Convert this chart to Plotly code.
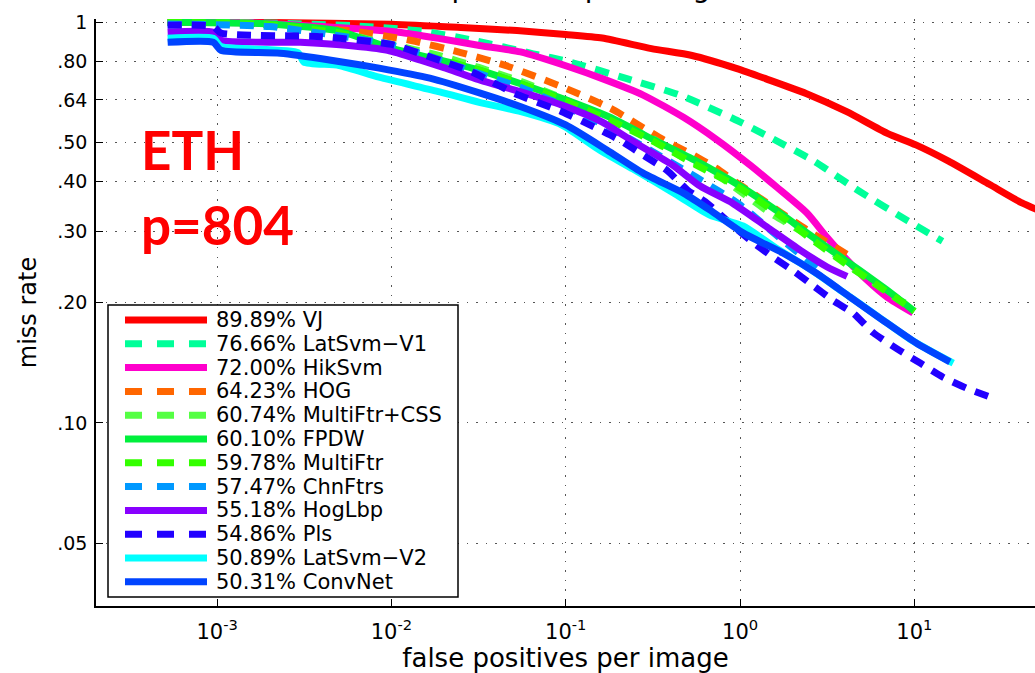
import plotly.graph_objects as go

# ---------------- data ----------------
names = ["VJ", "LatSvm\u2212V1", "HikSvm", "HOG", "MultiFtr+CSS", "FPDW", "MultiFtr",
         "ChnFtrs", "HogLbp", "Pls", "LatSvm\u2212V2", "ConvNet"]
scores = [89.89, 76.66, 72.00, 64.23, 60.74, 60.10, 59.78, 57.47, 55.18, 54.86, 50.89, 50.31]
colors = ["#FF0000", "#00FF99", "#FF00CC", "#FF6600", "#55FF44", "#00F03C", "#33FF00",
          "#0099FF", "#8800FF", "#2200FF", "#00FFFF", "#0044FF"]
dashed = [False, True, False, True, True, False, True, True, False, True, False, False]

vj_fppi = [5.2e-4, 2e-3, 0.01, 0.025, 0.0525, 0.1, 0.162, 0.31, 0.53, 0.96, 1.40, 2.39, 4.09, 7.0, 10.2, 15.7, 26.9, 41.4, 60.0]
vj_miss = [1.0, 0.998, 0.988, 0.97, 0.953, 0.932, 0.913, 0.859, 0.826, 0.766, 0.723, 0.664, 0.598, 0.528, 0.494, 0.450, 0.394, 0.354, 0.33]

latv1_fppi = [5.2e-4, 2e-3, 0.006, 0.015, 0.03, 0.065, 0.105, 0.224, 0.45, 0.91, 1.40, 2.66, 4.81, 9.2, 14.5]
latv1_miss = [1.0, 0.995, 0.98, 0.95, 0.90, 0.834, 0.796, 0.723, 0.658, 0.575, 0.523, 0.450, 0.379, 0.319, 0.284]

hik_fppi = [5.2e-4, 1.5e-3, 4e-3, 0.011, 0.019, 0.032, 0.055, 0.105, 0.162, 0.278, 0.476, 0.73, 1.14, 1.63, 2.42, 3.16, 4.11, 5.36, 6.97, 9.84]
hik_miss = [1.0, 0.997, 0.975, 0.944, 0.910, 0.875, 0.843, 0.773, 0.723, 0.658, 0.578, 0.51, 0.44, 0.387, 0.334, 0.29, 0.255, 0.227, 0.206, 0.188]

hog_fppi = [5.2e-4, 2e-3, 6e-3, 0.013, 0.025, 0.045, 0.095, 0.18, 0.36, 0.52, 0.73, 0.96, 1.30, 1.73, 2.42, 4.45]
hog_miss = [1.0, 0.985, 0.95, 0.90, 0.84, 0.78, 0.69, 0.61, 0.51, 0.47, 0.432, 0.397, 0.364, 0.334, 0.303, 0.258]

mfcss_fppi = [5.2e-4, 1.5e-3, 4e-3, 0.01, 0.018, 0.032, 0.056, 0.1, 0.18, 0.32, 0.47, 0.65, 1.04, 1.49, 2.62, 3.42, 4.45, 6.1, 8.3, 9.6]
mfcss_miss = [1.0, 0.995, 0.96, 0.88, 0.83, 0.77, 0.71, 0.64, 0.57, 0.51, 0.46, 0.432, 0.374, 0.334, 0.289, 0.265, 0.243, 0.221, 0.202, 0.196]

fpdw_fppi = [5.2e-4, 2e-3, 5e-3, 0.01, 0.0178, 0.0316, 0.0562, 0.1, 0.178, 0.316, 0.562, 1.0, 1.6, 2.5, 4.0, 6.0, 8.0, 10.0]
fpdw_miss = [1.0, 0.99, 0.95, 0.86, 0.81, 0.76, 0.70, 0.64, 0.58, 0.51, 0.45, 0.39, 0.34, 0.295, 0.255, 0.225, 0.205, 0.19]

mf_fppi = [5.2e-4, 2e-3, 5e-3, 0.01, 0.0178, 0.0316, 0.0562, 0.1, 0.178, 0.316, 0.562, 1.0, 1.6, 2.5, 4.0, 6.0, 8.5, 10.0]
mf_miss = [1.0, 0.985, 0.94, 0.87, 0.815, 0.76, 0.70, 0.635, 0.57, 0.505, 0.44, 0.385, 0.335, 0.29, 0.25, 0.222, 0.20, 0.19]

chn_fppi = [5.2e-4, 2e-3, 4.7e-3, 0.0085, 0.0145, 0.0316, 0.0562, 0.1, 0.178, 0.316, 0.562, 1.0, 1.6, 2.9]
chn_miss = [0.99, 0.975, 0.928, 0.891, 0.837, 0.745, 0.685, 0.615, 0.545, 0.475, 0.41, 0.35, 0.295, 0.24]

hoglbp_fppi = [5.2e-4, 9.5e-4, 1.05e-3, 3e-3, 5.5e-3, 0.0095, 0.0147, 0.02, 0.0323, 0.0553, 0.095, 0.16, 0.25, 0.41, 0.59, 0.91, 1.43, 2.21, 3.16, 4.11]
hoglbp_miss = [0.944, 0.944, 0.902, 0.891, 0.876, 0.851, 0.804, 0.77, 0.717, 0.670, 0.621, 0.565, 0.50, 0.44, 0.39, 0.353, 0.308, 0.270, 0.245, 0.232]

pls_fppi = [5.2e-4, 9.5e-4, 1.05e-3, 4e-3, 0.01, 0.0165, 0.029, 0.051, 0.095, 0.131, 0.2, 0.28, 0.38, 0.5, 0.65, 0.84, 1.14, 1.55, 2.01, 2.52, 3.42, 4.45, 5.8, 7.96, 10.8, 14.6, 20.0, 27.2]
pls_miss = [0.983, 0.975, 0.94, 0.92, 0.88, 0.82, 0.751, 0.664, 0.598, 0.56, 0.51, 0.465, 0.427, 0.381, 0.353, 0.320, 0.286, 0.259, 0.240, 0.223, 0.202, 0.188, 0.168, 0.153, 0.141, 0.130, 0.122, 0.116]

latv2_fppi = [5.2e-4, 9.5e-4, 1.05e-3, 2.9e-3, 3.15e-3, 5e-3, 8.5e-3, 0.0189, 0.0323, 0.0553, 0.095, 0.157, 0.243, 0.436, 0.67, 1.04, 1.63, 2.52, 3.9, 6.1, 9.4, 12.8, 16.7]
latv2_miss = [0.912, 0.912, 0.87, 0.84, 0.795, 0.78, 0.729, 0.67, 0.63, 0.598, 0.554, 0.479, 0.43, 0.37, 0.33, 0.31, 0.272, 0.242, 0.212, 0.185, 0.162, 0.150, 0.141]

conv_fppi = [5.2e-4, 9.5e-4, 1.05e-3, 2.3e-3, 4.5e-3, 8.5e-3, 0.0166, 0.0323, 0.0553, 0.1, 0.172, 0.278, 0.476, 0.67, 1.04, 1.77, 2.76, 4.28, 6.64, 10.3, 16.0]
conv_miss = [0.891, 0.891, 0.851, 0.837, 0.804, 0.768, 0.725, 0.665, 0.615, 0.554, 0.48, 0.42, 0.374, 0.34, 0.298, 0.265, 0.236, 0.206, 0.180, 0.158, 0.142]

curves = [(vj_fppi, vj_miss), (latv1_fppi, latv1_miss), (hik_fppi, hik_miss), (hog_fppi, hog_miss),
          (mfcss_fppi, mfcss_miss), (fpdw_fppi, fpdw_miss), (mf_fppi, mf_miss), (chn_fppi, chn_miss),
          (hoglbp_fppi, hoglbp_miss), (pls_fppi, pls_miss), (latv2_fppi, latv2_miss), (conv_fppi, conv_miss)]

x_tickvals = [1e-3, 1e-2, 1e-1, 1, 10]
x_ticktext = ["10<sup>-3</sup>", "10<sup>-2</sup>", "10<sup>-1</sup>", "10<sup>0</sup>", "10<sup>1</sup>"]
y_tickvals = [0.05, 0.10, 0.20, 0.30, 0.40, 0.50, 0.64, 0.80, 1.0]
y_ticktext = [".05", ".10", ".20", ".30", ".40", ".50", ".64", ".80", "1"]

# ---------------- figure ----------------
W, H = 1035, 673
L, R, T, B = 96, 1035, 19, 606
FONT = "DejaVu Sans, Liberation Sans, Arial, sans-serif"

def px_x(px):
    return (px - L) / (R - L)

def px_y(py):
    return (B - py) / (B - T)

fig = go.Figure()
for (fx, my), nm, col, dsh in zip(curves, names, colors, dashed):
    fig.add_trace(go.Scatter(
        x=fx, y=my, mode="lines", name=nm,
        line=dict(color=col, width=7, dash="14px,10px" if dsh else "solid",
                  shape="spline", smoothing=0.6),
        hoverinfo="skip"))

# custom legend box
shapes = [dict(type="rect", xref="paper", yref="paper",
               x0=px_x(108), x1=px_x(458), y0=px_y(597), y1=px_y(305),
               line=dict(color="black", width=1.5), fillcolor="white", layer="above")]
annotations = []
for i, (nm, sc, col, dsh) in enumerate(zip(names, scores, colors, dashed)):
    yc = 320 + 23.8 * i
    shapes.append(dict(type="line", xref="paper", yref="paper",
                       x0=px_x(125), x1=px_x(207), y0=px_y(yc), y1=px_y(yc),
                       line=dict(color=col, width=7, dash="17px,15px" if dsh else "solid"),
                       layer="above"))
    annotations.append(dict(xref="paper", yref="paper", x=px_x(214), y=px_y(yc),
                            xanchor="left", yanchor="middle", showarrow=False,
                            text=f"{sc:.2f}% {nm}",
                            font=dict(family=FONT, size=21, color="black")))

# dataset labels
annotations.append(dict(xref="paper", yref="paper", x=px_x(139), y=px_y(150),
                        xanchor="left", yanchor="middle", showarrow=False, text="ETH",
                        font=dict(family="Lato, sans-serif", size=53, color="#FF0000", weight="bold")))
annotations.append(dict(xref="paper", yref="paper", x=px_x(139), y=px_y(224),
                        xanchor="left", yanchor="middle", showarrow=False, text="p=804",
                        font=dict(family="Lato, sans-serif", size=53, color="#FF0000", weight="bold")))
# title (mostly cut off at top of the picture)
annotations.append(dict(xref="paper", yref="paper", x=px_x(551), y=px_y(6),
                        xanchor="center", yanchor="bottom", showarrow=False,
                        text="false positives per image",
                        font=dict(family=FONT, size=28, color="black")))

fig.update_layout(
    width=W, height=H,
    margin=dict(l=L, r=W - R, t=T, b=H - B, pad=0, autoexpand=False),
    paper_bgcolor="white", plot_bgcolor="white",
    showlegend=False,
    shapes=shapes, annotations=annotations,
    xaxis=dict(type="log", range=[-3.695, 1.692], automargin=False,
               tickvals=x_tickvals, ticktext=x_ticktext,
               ticks="inside", ticklen=7, tickwidth=1.3, tickcolor="black",
               showline=True, linecolor="black", linewidth=1.5, mirror=False,
               showgrid=True, gridcolor="#555555", gridwidth=1, griddash="1.5px,8px",
               zeroline=False, ticklabelstandoff=6,
               tickfont=dict(family=FONT, size=21, color="black"),
               title=dict(text="false positives per image", standoff=2,
                          font=dict(family=FONT, size=26, color="black"))),
    yaxis=dict(type="log", range=[-1.457, 0.008], automargin=False,
               tickvals=y_tickvals, ticktext=y_ticktext,
               ticks="inside", ticklen=7, tickwidth=1.3, tickcolor="black",
               showline=True, linecolor="black", linewidth=1.5, mirror=False,
               showgrid=True, gridcolor="#555555", gridwidth=1, griddash="1.5px,8px",
               zeroline=False, ticklabelstandoff=3,
               tickfont=dict(family=FONT, size=19, color="black"),
               title=dict(text="miss rate", standoff=14,
                          font=dict(family=FONT, size=24, color="black"))),
)

fig.write_html("out.html", config={"displayModeBar": False},
               post_script="document.body.style.margin='0px';document.body.style.overflow='hidden';")
